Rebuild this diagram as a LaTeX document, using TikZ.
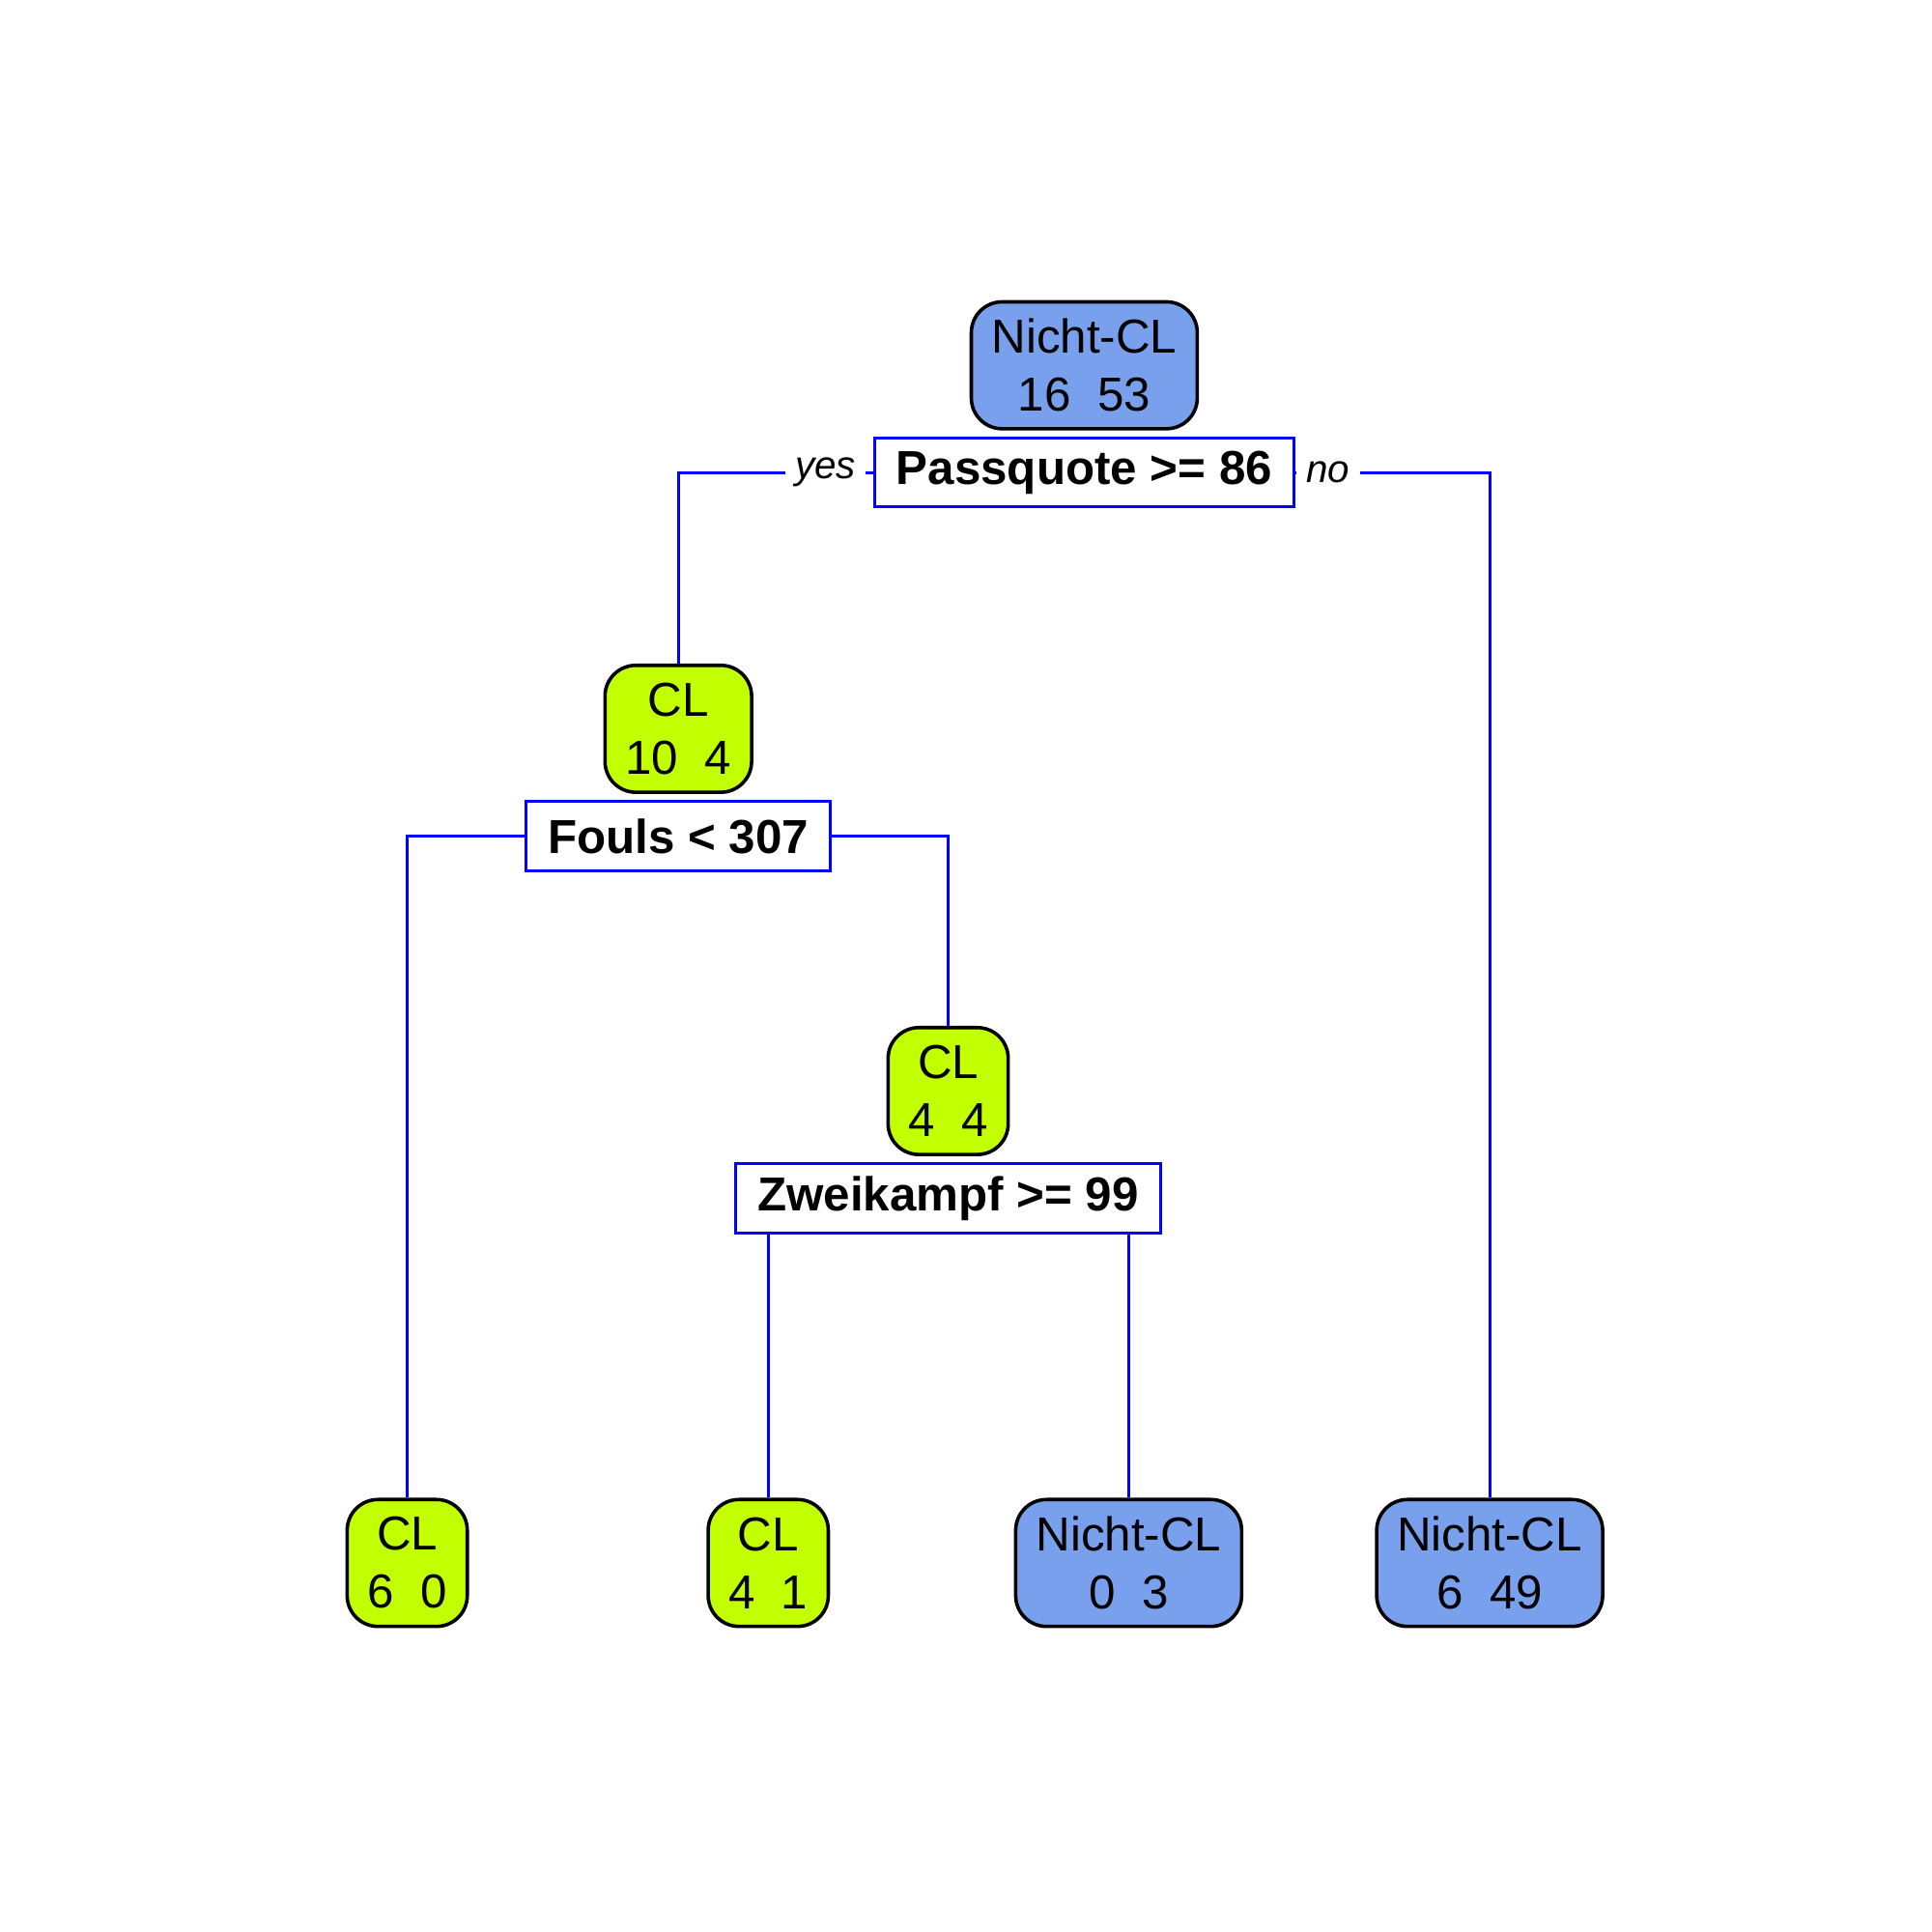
\documentclass[tikz,border=0pt]{standalone}
\usepackage{fontspec}
\setmainfont{Liberation Sans}
\usetikzlibrary{positioning}
\definecolor{leafblue}{RGB}{120,160,237}
\definecolor{leafgreen}{RGB}{194,255,0}

\begin{document}
\begin{tikzpicture}[
    leaf/.style={draw, line width=0.8pt, rounded corners=0.25cm, minimum height=1.03cm, inner ysep=0pt, inner xsep=0.165cm, align=center, font=\fontsize{11}{13.4}\selectfont},
    blueleaf/.style={leaf, fill=leafblue},
    greenleaf/.style={leaf, fill=leafgreen},
    split/.style={draw=blue, line width=0.65pt, fill=white, minimum height=0.56cm, inner ysep=0pt, inner xsep=0.175cm, font=\fontsize{11}{13.4}\selectfont\bfseries},
    edge/.style={blue, line width=0.65pt},
    lab/.style={fill=white, text=black, inner xsep=0.08cm, inner ysep=0pt, font=\fontsize{9}{11}\selectfont\itshape}
]
\useasboundingbox (0,0) rectangle (15.68,15.68);

% Root
\node (root) [blueleaf] at (8.80,12.715) {Nicht-CL\\16\ \ 53};
\node (passquote) [split, below=0.05cm of root] {Passquote >= 86};

% Second level
\node (cl104) [greenleaf] at (5.505,9.765) {CL\\10\ \ 4};
\node (fouls) [split, below=0.05cm of cl104] {Fouls < 307};
\node (cl44) [greenleaf] at (7.695,6.825) {CL\\4\ \ 4};
\node (zweikampf) [split, below=0.05cm of cl44] {Zweikampf >= 99};

% Leaves
\node (leafa) [greenleaf] at (3.305,2.995) {CL\\6\ \ 0};
\node (leafb) [greenleaf] at (6.235,2.995) {CL\\4\ \ 1};
\node (leafc) [blueleaf] at (9.16,2.995) {Nicht-CL\\0\ \ 3};
\node (leafd) [blueleaf] at (12.09,2.995) {Nicht-CL\\6\ \ 49};

\draw [edge] (passquote.west) -- ++(-0.05,0) node[lab, left]{yes} -| (cl104.north);
\draw [edge] (passquote.east) node[lab, right]{no} -| (leafd.north);
\draw [edge] (fouls.west) -| (leafa.north);
\draw [edge] (fouls.east) -| (cl44.north);
\draw [edge] (leafb.north) -- (leafb.north |- zweikampf.south);
\draw [edge] (leafc.north) -- (leafc.north |- zweikampf.south);

\end{tikzpicture}
\end{document}
